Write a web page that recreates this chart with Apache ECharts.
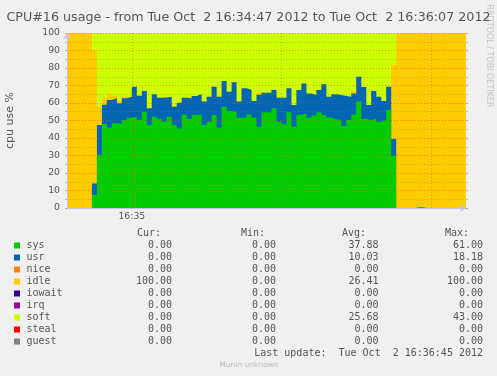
<!DOCTYPE html>
<html><head><meta charset="utf-8">
<script src="https://cdn.jsdelivr.net/npm/echarts@6/dist/echarts.min.js"></script>
<style>html,body{margin:0;padding:0;background:#f0f0f0}#c{width:497px;height:376px}</style>
</head><body><div id="c"></div><script>
// ---- data (one point per second, 16:34:47 .. 16:36:07; value at t applies to (t-1, t]) ----
const startTime = [16, 34, 47];
const pointCount = 81;
const xLabelTimes = ['16:35:00'];             // labelled + major grid
const xMinorTimes = ['16:35:30', '16:36:00']; // minor grid
const yTicks = [0, 100, 10];                  // min, max, step

const names  = ['sys','usr','nice','idle','iowait','irq','soft','steal','guest'];
const colors = ['#00CC00','#0066B3','#FF8000','#FFCC00','#330099','#990099','#CCFF00','#FF0000','#808080'];

const sys = [0, 0,0,0,0,0, 7.5,30.5,48,46,48.4, 48,50.3,51.6,52.2,50.3, 55,47.4,52.2,50.9,49.3, 52.2,47.4,45.5,53.5,50.9, 53.1,53.5,47.4,49.3,53.1, 45.9,57.9,55.4,54.7,51.6, 51.6,53.5,51.6,46.5,54.7, 54.7,57,49.3,47.8,54.7, 46.5,53.1,54.1,51.6,52.8, 54.7,53.1,51.6,50.7,50.3, 46.9,50.3,53.5,60.8,50.9, 50.3,51.2,49.3,50.3,56, 29.9,0,0,0,0, 0.6,0,0,0,0, 0,0,0,0,0];
const usr = [0, 0,0,0,0,0, 6.5,17,11,15.7,14.3, 11.8,12.4,12,17.1,13.9, 11.9,9.6,12.8,12.1,13.9, 11.4,10.5,14.7,9.5,11.8, 10.9,11.5,13.4,14.3,16.2, 17.7,14.7,11.1,17.1,9.2, 16.8,13.9,9.5,18.2,11.2, 11.2,10.4,13.7,15.2,13.7, 12.4,14.3,17.1,13.9,11.8, 12.7,17.6,12,14.3,14.3, 17.1,13.3,12,14.2,18.2, 8.6,15.7,14.3,10.8,13.3, 9.5,0,0,0,0, 0,0,0,0,0, 0,0,0,0,0];
const nice = [0, 0,0,0,0,0, 0,0,0,0,0, 0,0,0,0,0, 0,0,0,0,0, 0,0,0,0,0, 0,0,0,0,0, 0,0,0,0,0, 0,0,0,0,0, 0,0,0,0,0, 0,0,0,0,0, 0,0,0,0,0, 0,0,0,0,0, 0,0,0,0,0, 0,0,0,0,0, 0,0,0,0,0, 0,0,0,0,0];
const idle = [100, 100,100,100,100,100, 76,10.5,4,3.8,1.3, 1.3,0.9,0,0,0, 0,0,0,0,0, 0,0,0,0,0, 0,0,0,0,0, 0,0,0,0,0, 0,0,0,1.5,0, 0,0,0,0,0, 0,0,0,0,0, 0,0,0,0,0, 0,0,1.3,0,0, 0,0,0,0,0, 42.3,100,100,100,100, 99.4,100,100,100,100, 100,100,100,100,100];
const iowait = [0, 0,0,0,0,0, 0,0,0,0,0, 0,0,0,0,0, 0,0,0,0,0, 0,0,0,0,0, 0,0,0,0,0, 0,0,0,0,0, 0,0,0,0,0, 0,0,0,0,0, 0,0,0,0,0, 0,0,0,0,0, 0,0,0,0,0, 0,0,0,0,0, 0,0,0,0,0, 0,0,0,0,0, 0,0,0,0,0];
const irq = [0, 0,0,0,0,0, 0,0,0,0,0, 0,0,0,0,0, 0,0,0,0,0, 0,0,0,0,0, 0,0,0,0,0, 0,0,0,0,0, 0,0,0,0,0, 0,0,0,0,0, 0,0,0,0,0, 0,0,0,0,0, 0,0,0,0,0, 0,0,0,0,0, 0,0,0,0,0, 0,0,0,0,0, 0,0,0,0,0];
const soft = [0, 0,0,0,0,0, 10,42,37,34.5,36, 38.9,36.4,36.4,30.7,35.8, 33.1,43,35,37,36.8, 36.4,42.1,39.8,37,37.3, 36,35,39.2,36.4,30.7, 36.4,27.4,33.5,28.2,39.2, 31.6,32.6,38.9,33.8,34.1, 34.1,32.6,37,37,31.6, 41.1,32.6,28.8,34.5,35.4, 32.6,29.3,36.4,35,35.4, 36,36.4,33.2,25,30.9, 41.1,33.1,36.4,38.9,30.7, 18.3,0,0,0,0, 0,0,0,0,0, 0,0,0,0,0];
const steal = [0, 0,0,0,0,0, 0,0,0,0,0, 0,0,0,0,0, 0,0,0,0,0, 0,0,0,0,0, 0,0,0,0,0, 0,0,0,0,0, 0,0,0,0,0, 0,0,0,0,0, 0,0,0,0,0, 0,0,0,0,0, 0,0,0,0,0, 0,0,0,0,0, 0,0,0,0,0, 0,0,0,0,0, 0,0,0,0,0];
const guest = [0, 0,0,0,0,0, 0,0,0,0,0, 0,0,0,0,0, 0,0,0,0,0, 0,0,0,0,0, 0,0,0,0,0, 0,0,0,0,0, 0,0,0,0,0, 0,0,0,0,0, 0,0,0,0,0, 0,0,0,0,0, 0,0,0,0,0, 0,0,0,0,0, 0,0,0,0,0, 0,0,0,0,0, 0,0,0,0,0];

const statCur = ['0.00','0.00','0.00','100.00','0.00','0.00','0.00','0.00','0.00'];
const statMin = ['0.00','0.00','0.00','0.00','0.00','0.00','0.00','0.00','0.00'];
const statAvg = ['37.88','10.03','0.00','26.41','0.00','0.00','25.68','0.00','0.00'];
const statMax = ['61.00','18.18','0.00','100.00','0.00','0.00','43.00','0.00','0.00'];
const statHeaders = ['Cur:','Min:','Avg:','Max:'];

const titleText = 'CPU#16 usage - from Tue Oct  2 16:34:47 2012 to Tue Oct  2 16:36:07 2012';
const yName = 'cpu use %';
const lastUpdate = 'Last update:  Tue Oct  2 16:36:45 2012';
const footer = 'Munin unknown';
const watermark = 'RRDTOOL / TOBI OETIKER';

// ---- build ----
const pad = n => (n < 10 ? '0' : '') + n;
const times = [];
for (let i = 0; i < pointCount; i++) {
  const s = startTime[0]*3600 + startTime[1]*60 + startTime[2] + i;
  times.push(pad(Math.floor(s/3600)) + ':' + pad(Math.floor(s/60)%60) + ':' + pad(s%60));
}
const seriesData = [sys, usr, nice, idle, iowait, irq, soft, steal, guest];

// stacked tops (rrdtool AREA/STACK); each area is painted from 0 up to its stacked top,
// upper layers first, so neighbouring areas overlap instead of leaving seams
const stackedTops = [];
seriesData.forEach((arr, i) => {
  stackedTops.push(arr.map((v, k) => Math.round(((i ? stackedTops[i-1][k] : 0) + v) * 100) / 100));
});

const TXT = '#555555';
const SANS = '"DejaVu Sans"';
const MONO = '"DejaVu Sans Mono"';
const MAJOR = 'rgba(255,60,60,0.55)';
const MINOR = 'rgba(120,120,120,0.45)';
const AXIS = '#c4c4ec';

const graphics = [];
const colX = [137, 241, 342, 445];
const valRight = [172, 276, 378.5, 483];
const headerY = 233.5, rowY0 = 245.5, rowH = 12;
statHeaders.forEach((h, k) => graphics.push({type:'text', x: colX[k], y: headerY,
  style:{text:h, fontFamily:MONO, fontSize:10, fill:TXT, align:'left', verticalAlign:'middle'}}));
names.forEach((n, i) => {
  const y = rowY0 + i*rowH;
  graphics.push({type:'rect', shape:{x:14, y:y-3, width:6, height:6}, style:{fill:colors[i]}});
  graphics.push({type:'text', x:26.5, y:y, style:{text:n, fontFamily:MONO, fontSize:10, fill:TXT, align:'left', verticalAlign:'middle'}});
  [statCur, statMin, statAvg, statMax].forEach((arr, k) => graphics.push({type:'text', x: valRight[k], y:y,
    style:{text:arr[i], fontFamily:MONO, fontSize:10, fill:TXT, align:'right', verticalAlign:'middle'}}));
});
graphics.push({type:'text', x:483, y:353, style:{text:lastUpdate, fontFamily:MONO, fontSize:10, fill:TXT, align:'right', verticalAlign:'middle'}});
graphics.push({type:'text', x:249, y:365, style:{text:footer, fontFamily:SANS, fontSize:7.5, fill:'#bdbdbd', align:'center', verticalAlign:'middle'}});
graphics.push({type:'text', x:489, y:56, rotation:-Math.PI/2, style:{text:watermark, fontFamily:SANS, fontSize:8, fill:'#c4c4c4', align:'center', verticalAlign:'middle'}});

const series = [];
names.forEach((n, i) => {
  if (!seriesData[i].some(v => v !== 0)) return;   // nothing to paint
  series.push({
    name: n, type: 'line', step: 'start', symbol: 'none', silent: true,
    xAxisIndex: 0, yAxisIndex: 0, z: 2 + (names.length - i),
    data: stackedTops[i],
    lineStyle: {width: 0}, itemStyle: {color: colors[i]},
    areaStyle: {color: colors[i], opacity: 1, origin: 'start'}
  });
});

const chart = echarts.init(document.getElementById('c'), null, {renderer:'canvas'});
chart.setOption({
  animation: false,
  backgroundColor: '#f0f0f0',
  title: {text: titleText, left: 'center', top: 6,
    textStyle: {fontFamily: SANS, fontSize: 12.7, fontWeight: 'normal', color: TXT}},
  grid: {left: 67, top: 33, width: 399, height: 175, containLabel: false, outerBoundsMode: 'none'},
  xAxis: [{
    type: 'category', data: times, boundaryGap: false, z: 30,
    axisLine: {show: true, onZero: false, symbol: ['none','arrow'], symbolSize: [6,6], lineStyle: {color: AXIS}},
    axisTick: {show: false},
    axisLabel: {interval: (i, v) => xLabelTimes.includes(v), formatter: v => v.slice(0,5),
      fontFamily: SANS, fontSize: 9.3, color: TXT, margin: 4},
    splitLine: {show: true, interval: (i, v) => xLabelTimes.includes(v), lineStyle: {color: MAJOR, type: [1,2]}}
  }, {
    type: 'category', data: times, boundaryGap: false, z: 30, position: 'bottom',
    axisLine: {show: false}, axisTick: {show: false}, axisLabel: {show: false},
    splitLine: {show: true, interval: (i, v) => xMinorTimes.includes(v), lineStyle: {color: MINOR, type: [1,2]}}
  }],
  yAxis: [{
    type: 'value', min: yTicks[0], max: yTicks[1], interval: yTicks[2], z: 30,
    name: yName, nameLocation: 'middle', nameGap: 51, nameRotate: 90,
    nameTextStyle: {fontFamily: SANS, fontSize: 11, color: TXT},
    axisLine: {show: true, symbol: ['none','arrow'], symbolSize: [6,6], lineStyle: {color: AXIS}},
    axisTick: {show: true, length: 2, lineStyle: {color: MAJOR}},
    minorTick: {show: true, splitNumber: 2, length: 2, lineStyle: {color: MINOR}},
    axisLabel: {fontFamily: SANS, fontSize: 9.3, color: TXT, margin: 7},
    splitLine: {show: true, lineStyle: {color: MAJOR, type: [1,2]}},
    minorSplitLine: {show: true, lineStyle: {color: MINOR, type: [1,2]}}
  }, {
    type: 'value', min: yTicks[0], max: yTicks[1], interval: yTicks[2], z: 30, position: 'right',
    axisLine: {show: false}, axisLabel: {show: false}, splitLine: {show: false},
    axisTick: {show: true, length: 2, lineStyle: {color: MAJOR}},
    minorTick: {show: true, splitNumber: 2, length: 2, lineStyle: {color: MINOR}}
  }],
  series: series,
  graphic: graphics
});
</script></body></html>
